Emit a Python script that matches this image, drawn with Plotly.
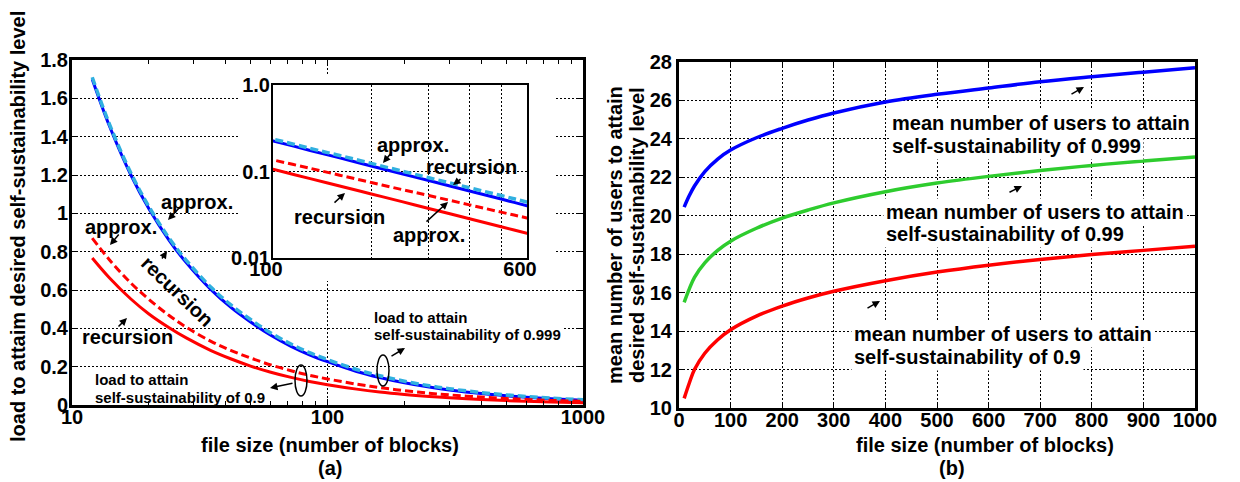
import plotly.graph_objects as go

W, H = 1240, 482

# ---------------- panel (a): load vs. file size ----------------
size_a = [12, 14, 17, 20, 24, 28, 35, 42, 50, 60, 72, 85, 100, 130, 160, 200,
          250, 300, 400, 500, 600, 750, 1000]
load_rec_999 = [1.70, 1.457, 1.20, 1.024, 0.859, 0.743, 0.602, 0.508, 0.433, 0.364,
                0.306, 0.262, 0.226, 0.175, 0.1436, 0.1158, 0.0934, 0.0786, 0.0595,
                0.048, 0.0402, 0.0324, 0.0245]
load_apx_999 = [1.71, 1.467, 1.21, 1.035, 0.87, 0.755, 0.614, 0.521, 0.446, 0.376,
                0.318, 0.273, 0.237, 0.185, 0.153, 0.124, 0.1005, 0.0848, 0.0648,
                0.0527, 0.0444, 0.036, 0.0275]
load_rec_9 = [0.767, 0.664, 0.553, 0.475, 0.403, 0.350, 0.284, 0.240, 0.203, 0.171,
              0.144, 0.123, 0.106, 0.0828, 0.0679, 0.055, 0.0445, 0.0374, 0.0284,
              0.023, 0.0193, 0.0156, 0.0118]
load_apx_9 = [0.871, 0.758, 0.636, 0.551, 0.467, 0.406, 0.332, 0.284, 0.245, 0.209,
              0.179, 0.155, 0.136, 0.1088, 0.0907, 0.0747, 0.0615, 0.0528, 0.0411,
              0.0339, 0.029, 0.0239, 0.0186]

a_yticks = [0, 0.2, 0.4, 0.6, 0.8, 1.0, 1.2, 1.4, 1.6, 1.8]
a_yticktext = ["0", "0.2", "0.4", "0.6", "0.8", "1", "1.2", "1.4", "1.6", "1.8"]
a_xticks = [10, 100, 1000]
a_xminor = [20, 30, 40, 50, 60, 70, 80, 90, 200, 300, 400, 500, 600, 700, 800, 900]
inset_xticks = [100, 600]
inset_xgrid = [200, 300, 400, 500]
inset_yticks = [0.01, 0.1, 1.0]
inset_yticktext = ["0.01", "0.1", "1.0"]

# ---------------- panel (b): mean number of users ----------------
size_b = [10, 20, 30, 50, 75, 100, 150, 200, 250, 300, 400, 500, 600, 700, 800,
          900, 1000]
users_999 = [20.45, 21.05, 21.55, 22.3, 22.95, 23.42, 24.06, 24.55, 24.98, 25.35,
             25.92, 26.32, 26.65, 26.97, 27.23, 27.47, 27.7]
users_99 = [15.5, 16.2, 16.8, 17.55, 18.2, 18.68, 19.35, 19.88, 20.3, 20.67, 21.25,
            21.7, 22.05, 22.35, 22.62, 22.85, 23.06]
users_9 = [10.5, 11.3, 12.0, 12.85, 13.55, 14.07, 14.78, 15.3, 15.72, 16.07, 16.62,
           17.07, 17.43, 17.73, 17.98, 18.2, 18.42]

BLUE, CYAN, RED, GREEN = "#0000ff", "#30b0e0", "#ff0000", "#2ecc2e"
FAM = "Liberation Sans, Arial, sans-serif"


def F(size):
    return dict(family=FAM, size=size, color="black", weight="bold")


def px(x):
    return x / W


def py(y):
    return 1 - y / H


fig = go.Figure()

# main curves of (a)
for ys, col, dash, wd in [(load_rec_999, BLUE, "solid", 3),
                          (load_apx_999, CYAN, "8px,4px", 3.5),
                          (load_rec_9, RED, "solid", 3),
                          (load_apx_9, RED, "8px,4px", 3)]:
    fig.add_trace(go.Scatter(x=size_a, y=ys, mode="lines", xaxis="x", yaxis="y",
                             line=dict(color=col, width=wd, dash=dash, shape="spline"),
                             showlegend=False))

# empty subplot whose white background sits behind the inset
fig.add_trace(go.Scatter(x=[None], y=[None], xaxis="x3", yaxis="y3",
                         showlegend=False, hoverinfo="skip"))

# inset of (a)
for ys, col, dash, wd in [(load_rec_999, BLUE, "solid", 3),
                          (load_apx_999, CYAN, "8px,4px", 3.5),
                          (load_apx_9, RED, "8px,4px", 3),
                          (load_rec_9, RED, "solid", 3)]:
    fig.add_trace(go.Scatter(x=size_a, y=ys, mode="lines", xaxis="x4", yaxis="y4",
                             line=dict(color=col, width=wd, dash=dash, shape="spline"),
                             showlegend=False))

# curves of (b)
for ys, col in [(users_999, BLUE), (users_99, GREEN), (users_9, RED)]:
    fig.add_trace(go.Scatter(x=size_b, y=ys, mode="lines", xaxis="x2", yaxis="y2",
                             line=dict(color=col, width=3.5, shape="spline"),
                             showlegend=False))

grid = dict(showgrid=True, gridcolor="black", gridwidth=1, griddash="2px,2px",
            zeroline=False, showline=True, linecolor="black", mirror="ticks",
            ticks="inside", tickcolor="black", tickfont=F(20), automargin=False)
blank = dict(showgrid=False, zeroline=False, showline=False, ticks="",
             showticklabels=False, range=[0, 1], fixedrange=True, automargin=False)

fig.update_layout(
    width=W, height=H, margin=dict(l=0, r=0, t=0, b=0, autoexpand=False),
    paper_bgcolor="white", plot_bgcolor="white",
    font=dict(family=FAM, size=20, color="black", weight="bold"),
    xaxis=dict(grid, type="log", range=[1, 3], domain=[px(72), px(583)], anchor="y",
               tickvals=a_xticks, ticktext=["10", "100", "1000"], linewidth=3,
               ticklen=6, ticklabelstandoff=-8,
               minor=dict(tickvals=a_xminor, ticks="inside", ticklen=4,
                          tickcolor="black", showgrid=False)),
    yaxis=dict(grid, range=[0, 1.8], domain=[py(405), py(60)], anchor="x",
               tickvals=a_yticks, ticktext=a_yticktext, linewidth=3, ticklen=6,
               ticklabelstandoff=-3),
    xaxis2=dict(grid, range=[0, 1000], domain=[px(679), px(1195)], anchor="y2",
                dtick=100, linewidth=3, ticklen=5, ticklabelstandoff=-8),
    yaxis2=dict(grid, range=[10, 28], domain=[py(408), py(62)], anchor="x2",
                dtick=2, linewidth=3, ticklen=5),
    xaxis3=dict(blank, domain=[px(240), px(556)], anchor="y3"),
    yaxis3=dict(blank, domain=[py(281), py(76)], anchor="x3"),
    xaxis4=dict(grid, type="log", range=[2, 2.77815], domain=[px(273), px(527)],
                anchor="y4", tickvals=inset_xticks, ticktext=["100", "600"],
                linewidth=2, ticks="", ticklabelshift=-7, ticklabelstandoff=-8,
                minor=dict(tickvals=inset_xgrid, showgrid=True, gridcolor="black",
                           gridwidth=1, griddash="2px,2px", ticks="")),
    yaxis4=dict(grid, type="log", range=[-2, 0], domain=[py(258), py(85)],
                anchor="x4", tickvals=inset_yticks, ticktext=inset_yticktext,
                linewidth=2, ticks="", ticklabelstandoff=-3),
)

# ellipses marking the curve pairs
fig.add_shape(type="circle", xref="paper", yref="paper", x0=px(295), x1=px(307),
              y0=py(396), y1=py(365), line=dict(color="black", width=1.5),
              layer="above")
fig.add_shape(type="circle", xref="paper", yref="paper", x0=px(377), x1=px(389),
              y0=py(386), y1=py(355), line=dict(color="black", width=1.5),
              layer="above")

ann = []


def label(text, x, y, size=20, anchor="center", angle=0, bg=None):
    d = dict(text=text, x=px(x), y=py(y), xref="paper", yref="paper",
             showarrow=False, xanchor=anchor, yanchor="middle", font=F(size),
             textangle=angle, borderpad=2)
    if bg:
        d["bgcolor"] = bg
    ann.append(d)


def arrow(tail, head):
    ann.append(dict(text="", x=px(head[0]), y=py(head[1]), xref="paper",
                    yref="paper", showarrow=True, ax=tail[0] - head[0],
                    ay=tail[1] - head[1], arrowhead=2, arrowsize=1,
                    arrowwidth=1.5, arrowcolor="black", standoff=0, startstandoff=0))


# axis titles
label("file size (number of blocks)", 330, 445)
label("(a)", 330, 468)
label("file size (number of blocks)", 985, 445)
label("(b)", 952, 468)
label("load to attaim desired self-sustainability level", 18, 227, angle=-90)
label("mean number of users to attain", 615, 235, angle=-90)
label("desired self-sustainability level", 637, 235, angle=-90)

# panel (a) labels
label("approx.", 197, 202)
arrow((181, 206), (168, 220))
label("approx.", 121, 227)
arrow((120, 233), (110, 245))
label("recursion", 177, 291, angle=44)
arrow((161, 260), (167, 251))
label("recursion", 127, 337)
arrow((117, 328), (127, 318))
label("load to attain", 92, 379, size=15, anchor="left")
label("self-sustainability of 0.9", 92, 397, size=15, anchor="left")
arrow((294, 383), (270, 388))
label("load to attain", 371, 317, size=15, anchor="left", bg="white")
label("self-sustainability of 0.999", 371, 334, size=15, anchor="left", bg="white")
arrow((390, 357), (405, 348))

# inset labels
label("approx.", 413, 145)
arrow((392, 152), (383, 163))
label("recursion", 472, 167)
arrow((462, 178), (453, 185))
label("recursion", 339, 217)
arrow((333, 204), (345, 193))
label("approx.", 429, 235)
arrow((425, 223), (448, 202))

# panel (b) labels
label("mean number of users to attain", 889, 123, anchor="left", bg="white")
label("self-sustainability of 0.999", 889, 146, anchor="left", bg="white")
arrow((1070, 95), (1084, 87))
label("mean number of users to attain", 883, 212, anchor="left", bg="white")
label("self-sustainability of 0.99", 883, 234, anchor="left", bg="white")
arrow((1008, 193), (1022, 186))
label("mean number of users to attain", 851, 334, anchor="left", bg="white")
label("self-sustainability of 0.9", 851, 357, anchor="left", bg="white")
arrow((866, 309), (880, 301))

fig.update_layout(annotations=ann)
fig.write_html("out.html")
